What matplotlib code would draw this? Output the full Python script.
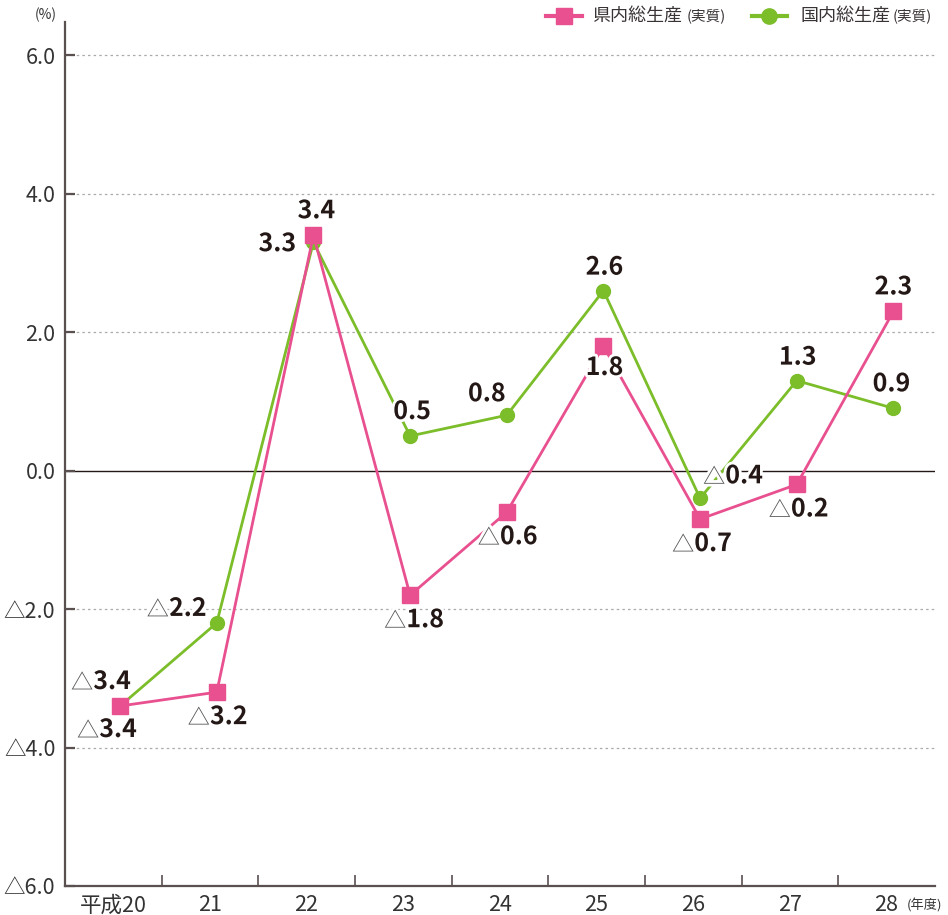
from matplotlib import pyplot as plt
from matplotlib.lines import Line2D
from matplotlib.transforms import ScaledTranslation
import matplotlib.patheffects as pe

plt.rcParams['font.family'] = ['Noto Sans CJK JP', 'DejaVu Sans']

# 年度 (平成)
years = ["平成20", "21", "22", "23", "24", "25", "26", "27", "28"]
# 経済成長率 (%)
pref_gdp = [-3.4, -3.2, 3.4, -1.8, -0.6, 1.8, -0.7, -0.2, 2.3]   # 県内総生産(実質)
nat_gdp = [-3.4, -2.2, 3.3, 0.5, 0.8, 2.6, -0.4, 1.3, 0.9]      # 国内総生産(実質)
yticks = [-6, -4, -2, 0, 2, 4, 6]

# label offsets in pixels (dx, dy), for the number part
pref_off = [(-2, -24), (12, -25), (3, 24), (15, -25), (12, -25),
            (1, -22), (13, -25), (13, -25), (0, 24)]
nat_off = [(-8, 24), (-29, 14), (-36, -2), (2, 24), (-20, 21),
           (1, 23), (44, 22), (1, 23), (-2, 24)]

PINK = "#e8508f"
GREEN = "#7cbd2a"
TXT = "#231815"
SPINE = "#5a5050"

fig = plt.figure(figsize=(9.48, 9.15), dpi=100)
ax = fig.add_axes([65 / 948, 29 / 915, 870 / 948, 864 / 915])

x = list(range(len(years)))
ax.set_xlim(-0.57, 8.43)
ax.set_ylim(-6, 6.48)

for v in [-4, -2, 2, 4, 6]:
    ax.axhline(v, color="#aaaaaa", lw=0.9, ls=(0, (2, 2.5)), zorder=1)
ax.axhline(0, color="#231815", lw=1.0, zorder=1)

ax.plot(x, nat_gdp, color=GREEN, lw=2, marker="o", ms=10, zorder=3)
ax.plot(x, pref_gdp, color=PINK, lw=2, marker="s", ms=12, zorder=4)

halo = [pe.withStroke(linewidth=4, foreground="white")]


def put_label(xi, v, off):
    t = ax.annotate(f"{abs(v):.1f}", (xi, v), xytext=off, textcoords="offset pixels",
                    ha="center", va="center", fontsize=18, fontweight="bold",
                    color=TXT, zorder=6, path_effects=halo)
    if v < 0:
        ax.annotate("△", (0, 0.45), xycoords=t, ha="right", va="center",
                    fontsize=16, color="#555555", zorder=6, path_effects=halo)


for i in x:
    put_label(i, nat_gdp[i], nat_off[i])
    put_label(i, pref_gdp[i], pref_off[i])

# axes styling
for s in ["top", "right"]:
    ax.spines[s].set_visible(False)
for s in ["left", "bottom"]:
    ax.spines[s].set_color(SPINE)
    ax.spines[s].set_linewidth(1.6)
    ax.spines[s].set_zorder(5)

ax.set_yticks(yticks)
ax.set_yticklabels([f"{v:.1f}" if v >= 0 else f"△{abs(v):.1f}" for v in yticks])
ax.tick_params(axis="y", direction="in", length=7, width=1.6, color=SPINE,
               labelsize=15.5, labelcolor="#333333", pad=7)

ax.set_xticks(x)
ax.set_xticklabels(years)
ax.tick_params(axis="x", which="major", length=0, labelsize=15.5, labelcolor="#333333", pad=6)
ax.set_xticks([i + 0.43 for i in x[:-1]], minor=True)
ax.tick_params(axis="x", which="minor", direction="in", length=8, width=1.2, color=SPINE)
shift = ScaledTranslation(-7 / 100, 0, fig.dpi_scale_trans)
for lab in ax.get_xticklabels():
    lab.set_transform(lab.get_transform() + shift)

fig.text(46 / 948, 1 - 15 / 915, "(%)", ha="center", va="center", fontsize=10, color="#333333")
fig.text(925 / 948, 1 - 906 / 915, "(年度)", ha="center", va="center", fontsize=9.5, color="#333333")

# legend
ly = 1 - 16 / 915
fig.add_artist(Line2D([546 / 948, 564 / 948, 582 / 948], [ly] * 3, transform=fig.transFigure,
                      color=PINK, lw=3, marker="s", ms=12, markevery=[1]))
fig.text(592 / 948, ly, "県内総生産", ha="left", va="center", fontsize=13, color="#3a3333")
fig.text(687 / 948, ly, "(実質)", ha="left", va="center", fontsize=10.5, color="#3a3333")
fig.add_artist(Line2D([752 / 948, 769 / 948, 787 / 948], [ly] * 3, transform=fig.transFigure,
                      color=GREEN, lw=3, marker="o", ms=11, markevery=[1]))
fig.text(801 / 948, ly, "国内総生産", ha="left", va="center", fontsize=13, color="#3a3333")
fig.text(893 / 948, ly, "(実質)", ha="left", va="center", fontsize=10.5, color="#3a3333")

fig.savefig("out.png", dpi=100)
